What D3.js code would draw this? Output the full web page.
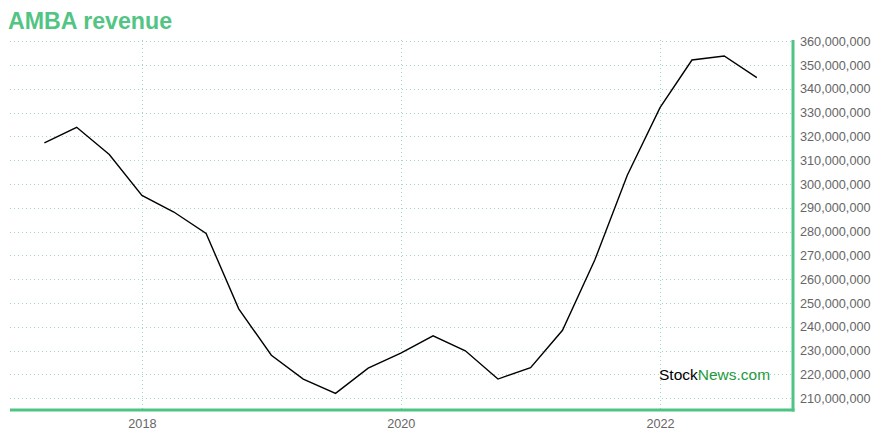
<!DOCTYPE html>
<html><head><meta charset="utf-8">
<script src="https://cdn.jsdelivr.net/npm/d3@7"></script>
<style>body{margin:0;background:#fff;}svg{display:block;font-family:"Liberation Sans",Arial,sans-serif;}</style>
</head><body><svg id="c" width="880" height="440"></svg>
<script>
const dates = ["2017-04-01","2017-07-01","2017-10-01","2018-01-01","2018-04-01","2018-07-01","2018-10-01",
  "2019-01-01","2019-04-01","2019-07-01","2019-10-01","2020-01-01","2020-04-01","2020-07-01","2020-10-01",
  "2021-01-01","2021-04-01","2021-07-01","2021-10-01","2022-01-01","2022-04-01","2022-07-01","2022-10-01"];
const revenue = [317.3e6,323.8e6,312.4e6,295.2e6,288.2e6,279.2e6,247.5e6,228.0e6,218.0e6,212.0e6,222.6e6,228.9e6,
  236.2e6,229.9e6,218.0e6,222.8e6,238.5e6,268.0e6,303.8e6,332.1e6,352.1e6,353.8e6,344.7e6];
const yTicks = [210e6,220e6,230e6,240e6,250e6,260e6,270e6,280e6,290e6,300e6,310e6,320e6,330e6,340e6,350e6,360e6];
const xTickYears = ["2018-01-01","2020-01-01","2022-01-01"];
const title = "AMBA revenue";

const parse = d3.timeParse("%Y-%m-%d");
const data = dates.map((d,i)=>({date:parse(d), v:revenue[i]}));

const svg = d3.select("#c");
const L = 10, R = 793, T = 40, B = 410;
const x = d3.scaleTime().domain([parse("2016-12-25"), parse("2023-01-11")]).range([L, R]);
const y = d3.scaleLinear().domain([205e6, 360.5e6]).range([B, T]);
const grid = "#9fdcbd";

svg.append("g").selectAll("line").data(yTicks).join("line")
  .attr("x1", L).attr("x2", R).attr("y1", d=>Math.round(y(d))+0.5).attr("y2", d=>Math.round(y(d))+0.5)
  .attr("stroke", grid).attr("stroke-width",1).attr("stroke-dasharray","1,3");
svg.append("g").selectAll("line").data(xTickYears).join("line")
  .attr("x1", d=>Math.round(x(parse(d)))+0.5).attr("x2", d=>Math.round(x(parse(d)))+0.5)
  .attr("y1", T).attr("y2", B)
  .attr("stroke", grid).attr("stroke-width",1).attr("stroke-dasharray","1,3");

const yAxis = d3.axisRight(y).tickValues(yTicks).tickSize(0).tickPadding(7).tickFormat(d3.format(",.0f"));
const ya = svg.append("g").attr("transform",`translate(${R},0)`).call(yAxis);
ya.select(".domain").remove();
ya.selectAll("text").attr("fill","#666").style("font-size","12.7px").style("font-family","'Liberation Sans',Arial,sans-serif");

const xAxis = d3.axisBottom(x).tickValues(xTickYears.map(parse)).tickSize(0).tickPadding(9).tickFormat(d3.timeFormat("%Y"));
const xa = svg.append("g").attr("transform",`translate(0,${B})`).call(xAxis);
xa.select(".domain").remove();
xa.selectAll("text").attr("fill","#666").style("font-size","12.7px").style("font-family","'Liberation Sans',Arial,sans-serif");

svg.append("line").attr("x1",L).attr("x2",R+1.5).attr("y1",B).attr("y2",B).attr("stroke","#4fc384").attr("stroke-width",3);
svg.append("line").attr("x1",R).attr("x2",R).attr("y1",T).attr("y2",B+1.5).attr("stroke","#4fc384").attr("stroke-width",3);

svg.append("path").datum(data)
  .attr("d", d3.line().x(d=>x(d.date)).y(d=>y(d.v)))
  .attr("fill","none").attr("stroke","#000").attr("stroke-width",1.4);

const wm = svg.append("text").attr("x",659).attr("y",380).style("font-size","15.5px").style("font-family","'Liberation Sans',Arial,sans-serif");
wm.append("tspan").attr("fill","#000").text("Stock");
wm.append("tspan").attr("fill","#1f9a3b").text("News.com");

svg.append("text").attr("x",8).attr("y",29).text(title)
  .attr("fill","#52c484").style("font-size","23.2px").style("font-weight","bold").style("font-family","'Liberation Sans',Arial,sans-serif");
</script></body></html>
